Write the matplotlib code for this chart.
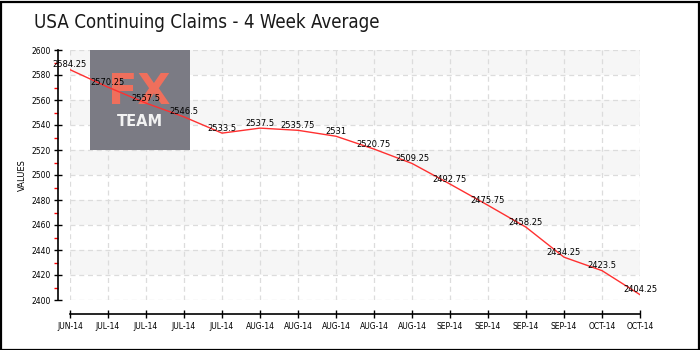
import matplotlib
matplotlib.use("Agg")
import matplotlib.pyplot as plt
from matplotlib.patches import Rectangle
from matplotlib.ticker import MultipleLocator

labels = ["JUN-14", "JUL-14", "JUL-14", "JUL-14", "JUL-14", "AUG-14", "AUG-14", "AUG-14",
          "AUG-14", "AUG-14", "SEP-14", "SEP-14", "SEP-14", "SEP-14", "OCT-14", "OCT-14"]
values = [2584.25, 2570.25, 2557.5, 2546.5, 2533.5, 2537.5, 2535.75, 2531,
          2520.75, 2509.25, 2492.75, 2475.75, 2458.25, 2434.25, 2423.5, 2404.25]
value_text = ["2584.25", "2570.25", "2557.5", "2546.5", "2533.5", "2537.5", "2535.75", "2531",
              "2520.75", "2509.25", "2492.75", "2475.75", "2458.25", "2434.25", "2423.5", "2404.25"]
title = "USA Continuing Claims - 4 Week Average"

W, H = 700, 350
fig = plt.figure(figsize=(7, 3.5), dpi=100)
fig.patch.set_facecolor("white")

# outer border
fig.add_artist(Rectangle((0.5 / W, 0.5 / H), (W - 2) / W, (H - 2.5) / H, transform=fig.transFigure,
                         fill=False, edgecolor="black", linewidth=1.6))

ax = fig.add_axes([70 / W, (H - 300) / H, 570 / W, 250 / H])
x = list(range(len(values)))
ax.set_xlim(0, len(values) - 1)
ax.set_ylim(2400, 2600)

# alternating bands
for lo in range(2420, 2600, 40):
    ax.axhspan(lo, lo + 20, color="#f6f6f6", zorder=0, linewidth=0)

ax.grid(True, which="major", linestyle=(0, (4, 3)), color="#dcdcdc", linewidth=0.9, zorder=0.5)
ax.set_axisbelow(True)

# watermark (inside the axes so that line and labels draw on top)
ax.add_artist(Rectangle((90 / W, (H - 150) / H), 100 / W, 100 / H, transform=fig.transFigure,
                        facecolor="#7b7b84", edgecolor="none", zorder=1))
ax.text(139 / W, (H - 92) / H, "FX", transform=fig.transFigure, ha="center", va="center",
        color="#ef6f5c", fontsize=31, fontweight="bold", family="DejaVu Sans", zorder=2)
ax.text(140 / W, (H - 122) / H, "TEAM", transform=fig.transFigure, ha="center", va="center",
        color="#f2f2f2", fontsize=10.5, fontweight="bold", family="DejaVu Sans", zorder=2)

ax.plot(x, values, color="#ff3030", linewidth=1.0, zorder=3)
for xi, v, t in zip(x, values, value_text):
    ax.annotate(t, (xi, v), xytext=(0, 5), textcoords="offset pixels", ha="center", va="center",
                fontsize=6, color="black", zorder=4, family="DejaVu Sans")

ax.set_xticks(x)
ax.set_xticklabels(labels)
ax.yaxis.set_major_locator(MultipleLocator(20))
ax.yaxis.set_minor_locator(MultipleLocator(10))
ax.tick_params(axis="y", which="major", direction="inout", length=6, width=1, labelsize=5.5, pad=2)
ax.tick_params(axis="y", which="minor", direction="out", length=3, width=1, color="red")
ax.tick_params(axis="x", which="major", direction="inout", length=6, width=1, pad=3, labelsize=5.5)
ax.xaxis.set_minor_locator(plt.NullLocator())

for s in ["top", "right"]:
    ax.spines[s].set_visible(False)
ax.spines["left"].set_position(("outward", 9))
ax.spines["bottom"].set_position(("outward", 10))
ax.spines["left"].set_linewidth(1.2)
ax.spines["bottom"].set_linewidth(1.2)

ax.set_ylabel("VALUES", fontsize=6, labelpad=3, family="DejaVu Sans")

fig.text(34 / W, (H - 22) / H, title, ha="left", va="center", fontsize=13.4, color="#1a1a1a",
         family="DejaVu Sans", fontstretch="condensed")

fig.savefig("out.png", dpi=100)
